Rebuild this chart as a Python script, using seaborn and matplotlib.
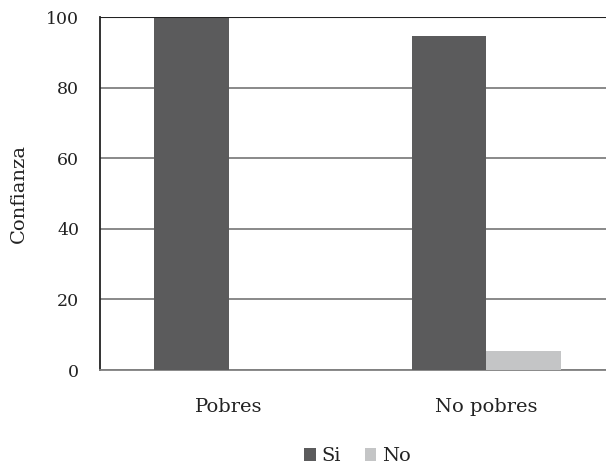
import pandas as pd
import numpy as np
import seaborn as sns
import matplotlib.pyplot as plt
from matplotlib.patches import Patch

# data
groups = ["Pobres", "No pobres"]
answers = ["Si", "No"]
si_values = [100.0, 94.6]
no_values = [0.0, 5.4]

df = pd.DataFrame({
    "Grupo": groups * 2,
    "Respuesta": ["Si"] * 2 + ["No"] * 2,
    "Confianza": si_values + no_values,
})

sns.set_style("white")
plt.rcParams["font.family"] = ["DejaVu Serif"]

colors = {"Si": "#5b5b5c", "No": "#c4c5c6"}

fig = plt.figure(figsize=(6.06, 4.69), dpi=100)
ax = fig.add_axes([100 / 606, 1 - 370 / 469, 515 / 606, 353 / 469])

sns.barplot(data=df, x="Grupo", y="Confianza", hue="Respuesta", order=groups,
            hue_order=answers, palette=colors, width=0.58, ax=ax,
            legend=False, saturation=1, linewidth=0, zorder=3)

ax.set_ylim(0, 100)
ax.set_xlim(-0.5, 1.5)
ax.set_yticks([0, 20, 40, 60, 80, 100])
ax.yaxis.grid(True, color="#808080", linewidth=1.3, zorder=0)
ax.set_axisbelow(True)

for s in ["top", "right"]:
    ax.spines[s].set_visible(False)
ax.spines["left"].set_color("#222222")
ax.spines["left"].set_linewidth(1.3)
ax.spines["bottom"].set_color("#808080")
ax.spines["bottom"].set_linewidth(1.3)
ax.axhline(100, color="#222222", linewidth=1.5, zorder=4)

ax.tick_params(axis="y", length=9, width=1.2, color="#555555", labelsize=12.5,
               pad=6, labelcolor="#222222")
ax.tick_params(axis="x", which="major", length=0, labelsize=14, pad=20,
               labelcolor="#222222")
ax.set_xticks([-0.5, 0.5, 1.5], minor=True)
ax.tick_params(axis="x", which="minor", length=6, width=1.0, color="#555555")

ax.set_xlabel("")
ax.set_ylabel("Confianza", fontsize=14, labelpad=13, color="#222222")

handles = [Patch(facecolor=colors[a], edgecolor="none") for a in answers]
ax.legend(handles, answers, loc="center", bbox_to_anchor=(0.5, -0.245),
          ncol=2, frameon=False, fontsize=14, handlelength=0.6,
          handleheight=0.6, handletextpad=0.3, columnspacing=1.2,
          labelcolor="#222222")

fig.savefig("out.png", dpi=100)
